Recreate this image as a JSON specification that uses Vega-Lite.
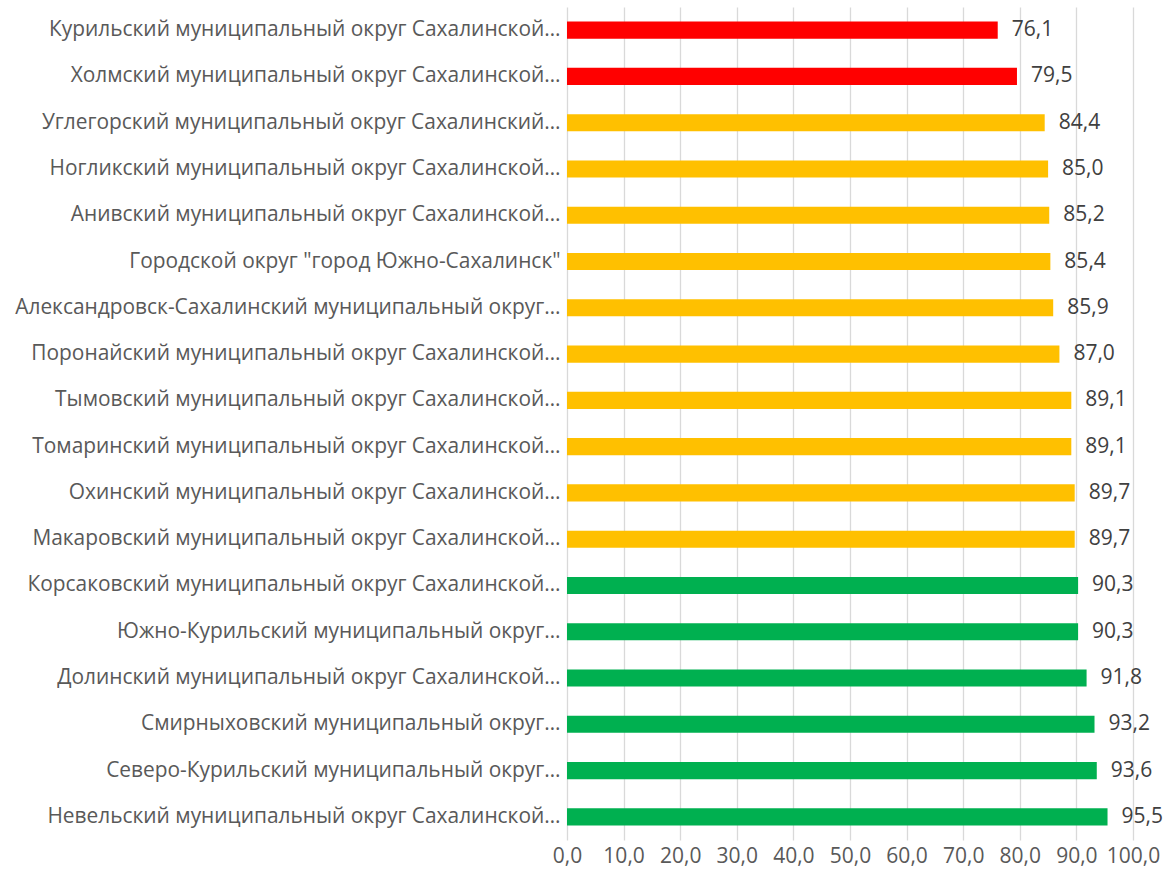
{
  "$schema": "https://vega.github.io/schema/vega-lite/v6.json",
  "width": 566,
  "height": 833,
  "autosize": {"type": "none"},
  "padding": {"left": 567, "top": 7, "right": 37, "bottom": 43},
  "background": "white",
  "config": {
    "locale": {"number": {"decimal": ",", "thousands": " ", "grouping": [3], "currency": ["", " ₽"]}},
    "view": {"stroke": null},
    "font": "Open Sans"
  },
  "data": {
    "values": [
      {"name": "Курильский муниципальный округ Сахалинской…", "value": 76.1, "group": "red"},
      {"name": "Холмский муниципальный округ Сахалинской…", "value": 79.5, "group": "red"},
      {"name": "Углегорский муниципальный округ Сахалинский…", "value": 84.4, "group": "yellow"},
      {"name": "Ногликский муниципальный округ Сахалинской…", "value": 85.0, "group": "yellow"},
      {"name": "Анивский муниципальный округ Сахалинской…", "value": 85.2, "group": "yellow"},
      {"name": "Городской округ \"город Южно-Сахалинск\" ", "value": 85.4, "group": "yellow"},
      {"name": "Александровск-Сахалинский муниципальный округ…", "value": 85.9, "group": "yellow"},
      {"name": "Поронайский муниципальный округ Сахалинской…", "value": 87.0, "group": "yellow"},
      {"name": "Тымовский муниципальный округ Сахалинской…", "value": 89.1, "group": "yellow"},
      {"name": "Томаринский муниципальный округ Сахалинской…", "value": 89.1, "group": "yellow"},
      {"name": "Охинский муниципальный округ Сахалинской…", "value": 89.7, "group": "yellow"},
      {"name": "Макаровский муниципальный округ Сахалинской…", "value": 89.7, "group": "yellow"},
      {"name": "Корсаковский муниципальный округ Сахалинской…", "value": 90.3, "group": "green"},
      {"name": "Южно-Курильский муниципальный округ…", "value": 90.3, "group": "green"},
      {"name": "Долинский муниципальный округ Сахалинской…", "value": 91.8, "group": "green"},
      {"name": "Смирныховский муниципальный округ…", "value": 93.2, "group": "green"},
      {"name": "Северо-Курильский муниципальный округ…", "value": 93.6, "group": "green"},
      {"name": "Невельский муниципальный округ Сахалинской…", "value": 95.5, "group": "green"}
    ]
  },
  "encoding": {
    "y": {
      "field": "name",
      "type": "nominal",
      "sort": null,
      "scale": {"paddingInner": 0.63, "paddingOuter": 0.315},
      "axis": {
        "title": null,
        "ticks": false,
        "domain": false,
        "labelFontSize": 20.9,
        "labelColor": "#595959",
        "labelPadding": 7,
        "labelLimit": 700
      }
    },
    "x": {
      "field": "value",
      "type": "quantitative",
      "scale": {"domain": [0, 100], "nice": false},
      "axis": {
        "title": null,
        "values": [0, 10, 20, 30, 40, 50, 60, 70, 80, 90, 100],
        "format": ".1f",
        "ticks": false,
        "domain": false,
        "grid": true,
        "gridColor": "#d9d9d9",
        "gridWidth": 1.3,
        "labelFontSize": 21,
        "labelColor": "#595959",
        "labelPadding": 5,
        "labelFlush": false
      }
    }
  },
  "layer": [
    {
      "mark": {"type": "bar"},
      "encoding": {
        "color": {
          "field": "group",
          "type": "nominal",
          "scale": {"domain": ["red", "yellow", "green"], "range": ["#FF0000", "#FFC000", "#00B050"]},
          "legend": null
        }
      }
    },
    {
      "mark": {"type": "text", "align": "left", "baseline": "middle", "dx": 14, "fontSize": 21, "color": "#404040"},
      "encoding": {
        "text": {"field": "value", "type": "quantitative", "format": ".1f"}
      }
    }
  ]
}
